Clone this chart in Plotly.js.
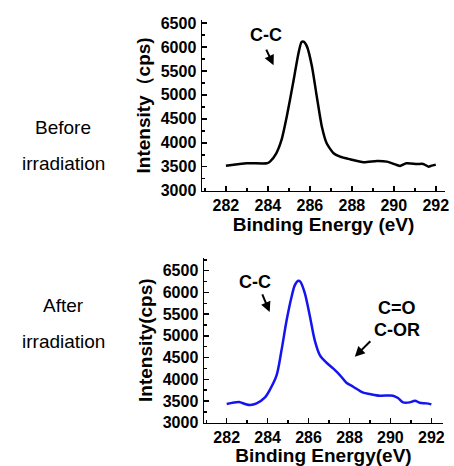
<!DOCTYPE html>
<html>
<head>
<meta charset="utf-8">
<script src="https://cdn.plot.ly/plotly-3.0.1.min.js"></script>
<style>html,body{margin:0;padding:0;background:#fff;}#chart{width:454px;height:466px;}</style>
</head>
<body>
<div id="chart"></div>
<script>
const energyBefore = [282, 283, 283.95, 284.1, 284.4, 284.65, 284.9, 285.2, 285.46, 285.6, 285.7, 285.86, 286.1, 286.33, 286.57, 286.8, 287.13, 287.44, 287.92, 288.56, 289.2, 289.67, 290.14, 290.3, 290.6, 291.1, 291.4, 291.65, 291.8, 292];
const intensityBefore = [3523, 3572, 3572, 3607, 3781, 4060, 4548, 5245, 5873, 6100, 6110, 6012, 5594, 4966, 4339, 3990, 3781, 3711, 3655, 3593, 3620, 3607, 3537, 3516, 3572, 3558, 3558, 3502, 3523, 3544];
const energyAfter = [282, 282.6, 282.9, 283.15, 283.46, 283.87, 284.1, 284.44, 284.68, 284.93, 285.17, 285.33, 285.5, 285.6, 285.82, 286.07, 286.3, 286.55, 286.88, 287.2, 287.53, 287.85, 288.18, 288.67, 289, 289.48, 290.13, 290.37, 290.62, 290.94, 291.2, 291.43, 291.76, 292];
const intensityAfter = [3430, 3476, 3430, 3407, 3445, 3583, 3752, 4097, 4673, 5364, 5901, 6170, 6270, 6246, 5978, 5440, 4903, 4558, 4381, 4251, 4097, 3921, 3829, 3691, 3660, 3622, 3622, 3568, 3468, 3468, 3507, 3460, 3445, 3422];
const xTicks = [282, 284, 286, 288, 290, 292];
const yTicks = [3000, 3500, 4000, 4500, 5000, 5500, 6000, 6500];
const panelLabels = [["Before", "irradiation"], ["After", "irradiation"]];
const xTitles = ["Binding Energy (eV)", "Binding Energy(eV)"];
const yTitles = ["Intensity\uff08cps)", "Intensity(cps)"];

const H = 466, W = 454;
const tickFont = {family: 'Liberation Sans, Arial, sans-serif', size: 16, color: '#000', weight: 'bold'};
const titleFont = {family: 'Liberation Sans, Arial, sans-serif', size: 19, color: '#000', weight: 'bold'};

function xax(domain, range, title) {
  return {
    domain: domain, range: range, showgrid: false, zeroline: false,
    showline: true, linecolor: '#000', linewidth: 1.5, mirror: false,
    ticks: 'inside', ticklen: 5, tickwidth: 1.5, tickcolor: '#000',
    tickvals: xTicks, ticktext: xTicks.map(String), tickfont: tickFont,
    ticklabelstandoff: 0,
    minor: {ticks: 'inside', ticklen: 3, tickwidth: 1.5, tickcolor: '#000', dtick: 1, showgrid: false},
    title: {text: title, font: titleFont, standoff: 1},
    fixedrange: true
  };
}
function yax(domain, range, title) {
  return {
    domain: domain, range: range, showgrid: false, zeroline: false,
    showline: true, linecolor: '#000', linewidth: 1.5, mirror: false,
    ticks: 'inside', ticklen: 5, tickwidth: 1.5, tickcolor: '#000',
    tickvals: yTicks, ticktext: yTicks.map(String), tickfont: tickFont,
    ticklabelstandoff: 1,
    minor: {ticks: 'inside', ticklen: 3, tickwidth: 1.5, tickcolor: '#000', dtick: 250, tick0: 3000, showgrid: false},
    title: {text: title, font: titleFont, standoff: 5},
    fixedrange: true
  };
}

const data = [
  {x: energyBefore, y: intensityBefore, type: 'scatter', mode: 'lines', xaxis: 'x', yaxis: 'y',
   line: {color: '#000', width: 2.5, shape: 'spline', smoothing: 0.6}, hoverinfo: 'skip'},
  {x: energyAfter, y: intensityAfter, type: 'scatter', mode: 'lines', xaxis: 'x2', yaxis: 'y2',
   line: {color: '#1414f0', width: 2.5, shape: 'spline', smoothing: 0.8}, hoverinfo: 'skip'}
];

const labelFont = {family: 'Liberation Sans, Arial, sans-serif', size: 19, color: '#000'};
const annFont = {family: 'Liberation Sans, Arial, sans-serif', size: 18, color: '#000', weight: 'bold'};

const annotations = [
  {xref: 'paper', yref: 'paper', x: 63/W, y: 1 - 127/H, xanchor: 'center', yanchor: 'middle', text: panelLabels[0][0], showarrow: false, font: labelFont},
  {xref: 'paper', yref: 'paper', x: 63/W, y: 1 - 163/H, xanchor: 'center', yanchor: 'middle', text: panelLabels[0][1], showarrow: false, font: labelFont},
  {xref: 'paper', yref: 'paper', x: 63/W, y: 1 - 305/H, xanchor: 'center', yanchor: 'middle', text: panelLabels[1][0], showarrow: false, font: labelFont},
  {xref: 'paper', yref: 'paper', x: 63/W, y: 1 - 341/H, xanchor: 'center', yanchor: 'middle', text: panelLabels[1][1], showarrow: false, font: labelFont},
  {xref: 'x', yref: 'y', x: 284.27, y: 5620, ax: -8, ay: -17, text: '', showarrow: true, arrowhead: 2, arrowsize: 1, arrowwidth: 2, arrowcolor: '#000'},
  {xref: 'x', yref: 'y', x: 283.9, y: 6240, text: 'C-C', showarrow: false, font: annFont},
  {xref: 'x2', yref: 'y2', x: 284.1, y: 5550, ax: -8, ay: -19, text: '', showarrow: true, arrowhead: 2, arrowsize: 1, arrowwidth: 2, arrowcolor: '#000'},
  {xref: 'x2', yref: 'y2', x: 283.4, y: 6240, text: 'C-C', showarrow: false, font: annFont},
  {xref: 'x2', yref: 'y2', x: 288.26, y: 4520, ax: 17, ay: -17, text: '', showarrow: true, arrowhead: 2, arrowsize: 1, arrowwidth: 2, arrowcolor: '#000'},
  {xref: 'x2', yref: 'y2', x: 290.3, y: 5635, text: 'C=O', showarrow: false, font: annFont},
  {xref: 'x2', yref: 'y2', x: 290.3, y: 5140, text: 'C-OR', showarrow: false, font: annFont}
];

const layout = {
  width: W, height: H, margin: {l: 0, r: 0, t: 0, b: 0},
  paper_bgcolor: '#fff', plot_bgcolor: '#fff', showlegend: false,
  xaxis: xax([202/W, 445/W], [280.86, 292.44], xTitles[0]),
  yaxis: yax([1 - 190.7/H, 1 - 20.1/H], [3000, 6560], yTitles[0]),
  xaxis2: Object.assign(xax([204/W, 443/W], [280.89, 292.57], xTitles[1]), {anchor: 'y2'}),
  yaxis2: Object.assign(yax([1 - 422.7/H, 1 - 257.7/H], [3000, 6800], yTitles[1]), {anchor: 'x2'}),
  annotations: annotations
};
layout.xaxis.anchor = 'y';
layout.yaxis.anchor = 'x';

Plotly.newPlot('chart', data, layout, {staticPlot: true, displayModeBar: false});
</script>
</body>
</html>
